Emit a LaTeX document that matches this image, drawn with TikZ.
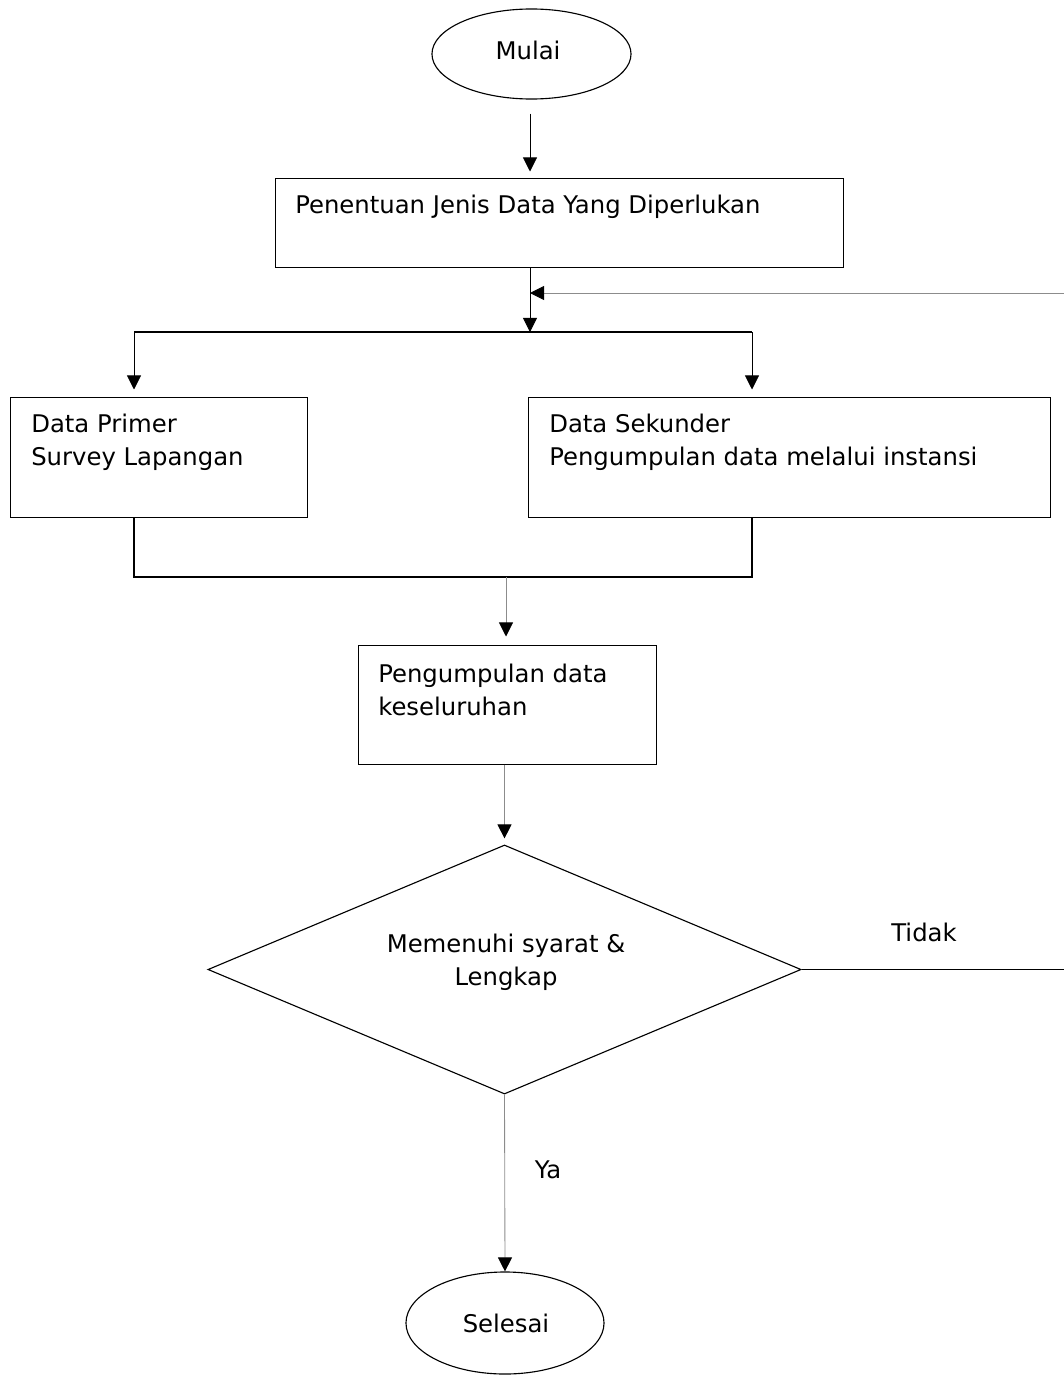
\documentclass[tikz,border=0pt]{standalone}
\usepackage{fontspec}
\setmainfont{DejaVu Sans}
\usepackage{tikz}
\usetikzlibrary{shapes.geometric}
\usetikzlibrary{arrows.meta}

\begin{document}
\begin{tikzpicture}[x=0.025cm, y=-0.025cm,
		box/.style={draw=black, line width=0.7pt, rectangle, inner sep=0pt},
		term/.style={draw=black, line width=0.8pt, ellipse, inner sep=0pt},
		decide/.style={draw=black, line width=0.8pt, diamond, aspect=2.4, inner sep=0pt, align=center},
		txt/.style={font=\fontsize{17.3}{23.4}\selectfont, align=left, inner sep=0pt},
		arr/.style={-{Triangle[length=10pt, width=10pt, color=black]}, line width=0.6pt},
		grey/.style={draw=black!45, line width=0.6pt},
		wire/.style={line width=0.9pt}]
			\useasboundingbox (0, 0) rectangle (1064, 1380);
			% nodes
			\node[term, minimum width=4.975cm, minimum height=2.25cm] (mulai) at (531.5, 54) {};
			\node[txt] (tmulai) at (528, 50) {Mulai};
			\node[box, minimum width=14.175cm, minimum height=2.2cm] (jenis) at (559.5, 223) {};
			\node[txt, anchor=west] (tjenis) at (295, 207) {Penentuan Jenis Data Yang Diperlukan};
			\node[box, minimum width=7.4cm, minimum height=2.975cm] (primer) at (159, 457.5) {};
			\node[txt, anchor=west] (tprimer) at (31, 442.5) {Data Primer\\Survey Lapangan};
			\node[box, minimum width=13.025cm, minimum height=2.975cm] (sekunder) at (789.5, 457.5) {};
			\node[txt, anchor=west] (tsekunder) at (549, 442.5) {Data Sekunder\\Pengumpulan data melalui instansi};
			\node[box, minimum width=7.425cm, minimum height=2.975cm] (kumpul) at (507.5, 704.5) {};
			\node[txt, anchor=west] (tkumpul) at (378, 689.5) {Pengumpulan data\\keseluruhan};
			\node[decide, minimum width=14.825cm, minimum height=6.225cm] (syarat) at (504.5, 969.5) {};
			\node[txt, align=center] (tsyarat) at (506, 962.5) {Memenuhi syarat \&\\Lengkap};
			\node[txt] (tidak) at (924, 932) {Tidak};
			\node[txt] (ya) at (548, 1170) {Ya};
			\node[term, minimum width=4.95cm, minimum height=2.55cm] (selesai) at (505, 1323) {};
			\node[txt] (tselesai) at (506, 1323) {Selesai};
			% junctions
			\coordinate (split) at (530, 332);
			\coordinate (pl) at (134, 332);
			\coordinate (pr) at (752, 332);
			\coordinate (ml) at (134, 577);
			\coordinate (mr) at (752, 577);
			\coordinate (mm) at (506, 577);
			\coordinate (back) at (1064, 293);
			\coordinate (tidakend) at (1064, 968);
			% connectors
			\draw[arr, shorten <=0.35cm, shorten >=0.175cm] (mulai.south -| split) -- (split |- jenis.north);
			\draw[arr] (split |- jenis.south) -- (split);
			\draw[arr, grey] (back) -- (back -| split);
			\draw[wire] (pl) -- (pr);
			\draw[arr, shorten >=0.2cm] (pl) -- (pl |- primer.north);
			\draw[arr, shorten >=0.2cm] (pr) -- (pr |- sekunder.north);
			\draw[wire] (pl |- primer.south) -- (ml) -- (mr) -- (pr |- sekunder.south);
			\draw[arr, grey, shorten >=0.2cm] (mm) -- (mm |- kumpul.north);
			\draw[arr, grey, shorten >=0.15cm] (syarat.north |- kumpul.south) -- (syarat.north);
			\draw[wire] (syarat.east) -- (syarat.east -| tidakend);
			\draw[arr, grey] (syarat.south) -- (selesai.north);
		\end{tikzpicture}
\end{document}
